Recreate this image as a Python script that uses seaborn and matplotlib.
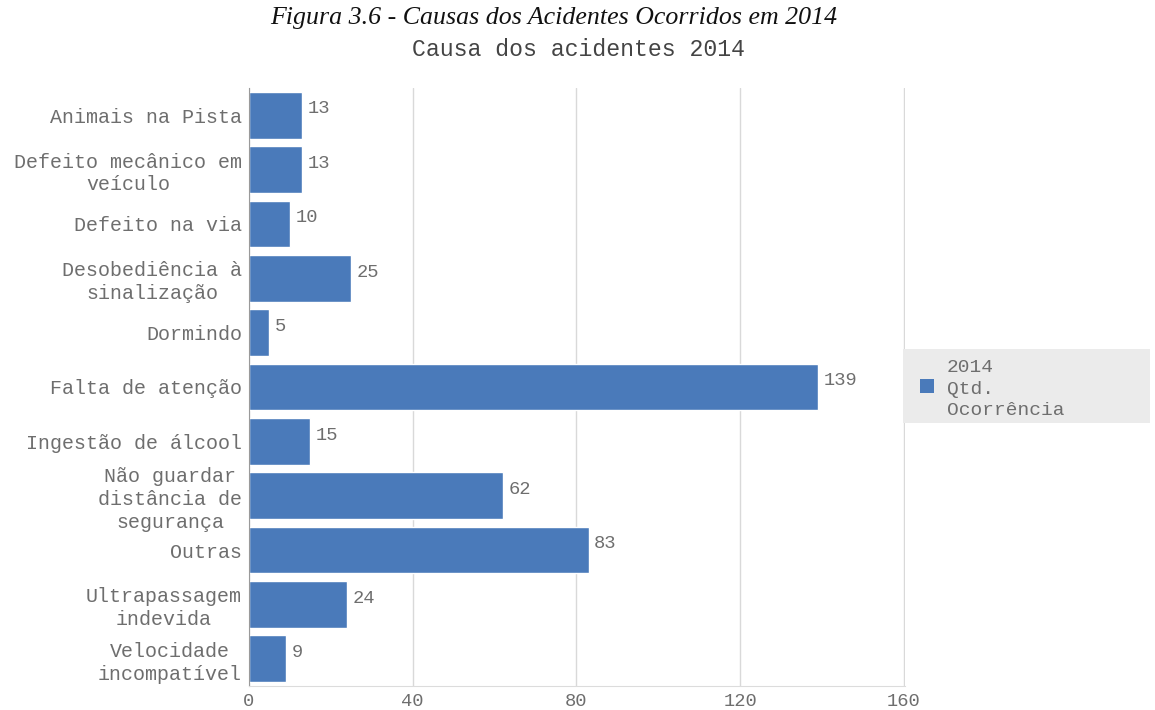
import matplotlib
matplotlib.use("Agg")
import matplotlib.pyplot as plt
import seaborn as sns
import pandas as pd
from matplotlib.patches import Rectangle

categories = [
    "Animais na Pista",
    "Defeito mecânico em\nveículo",
    "Defeito na via",
    "Desobediência à\nsinalização",
    "Dormindo",
    "Falta de atenção",
    "Ingestão de álcool",
    "Não guardar\ndistância de\nsegurança",
    "Outras",
    "Ultrapassagem\nindevida",
    "Velocidade\nincompatível",
]
values = [13, 13, 10, 25, 5, 139, 15, 62, 83, 24, 9]
x_ticks = [0, 40, 80, 120, 160]
series_name = "2014\nQtd.\nOcorrência"
fig_title = "Figura 3.6 - Causas dos Acidentes Ocorridos em 2014"
chart_title = "Causa dos acidentes 2014"

sns.set_style("white")
plt.rcParams["font.family"] = ["Liberation Mono", "DejaVu Sans Mono"]

bar_color = "#4a7aba"
text_color = "#6e6e6e"

df = pd.DataFrame({"cause": categories, "count": values})

fig = plt.figure(figsize=(11.55, 7.10), dpi=100)
ax = fig.add_axes([249 / 1155, 1 - 686 / 710, (905 - 249) / 1155, (686 - 88) / 710])

sns.barplot(data=df, y="cause", x="count", orient="h", color=bar_color,
            saturation=1, width=0.86, ax=ax)

ax.set_xlim(0, 160.3)
ax.set_xticks(x_ticks)
ax.set_xticklabels([str(t) for t in x_ticks], fontsize=13.5, color=text_color)
ax.set_xlabel("")
ax.set_ylabel("")
ax.tick_params(axis="both", length=0, pad=5)
for lbl in ax.get_yticklabels():
    lbl.set_fontsize(14.4)
    lbl.set_color(text_color)
    lbl.set_multialignment("center")
    lbl.set_linespacing(1.25)

ax.grid(axis="x", color="#d9d9d9", linewidth=1)
ax.set_axisbelow(True)
for s in ["top", "right"]:
    ax.spines[s].set_visible(False)
ax.spines["left"].set_color("#9a9a9a")
ax.spines["bottom"].set_color("#dcdcdc")

for i, v in enumerate(values):
    ax.annotate(str(v), xy=(v, i), xytext=(4, 4.5), textcoords="offset points",
                ha="left", va="center", fontsize=13.5, color=text_color)

fig.text(554 / 1155, 1 - 18 / 710, fig_title, ha="center", va="center",
         fontsize=18.6, fontstyle="italic", family=["Liberation Serif", "DejaVu Serif"],
         color="#111111")
fig.text(578 / 1155, 1 - 49 / 710, chart_title, ha="center", va="center",
         fontsize=16.7, color="#444444")

# legend box
fig.patches.append(Rectangle((903 / 1155, 1 - 423 / 710), (1150 - 903) / 1155, 74 / 710,
                             transform=fig.transFigure, facecolor="#ebebeb",
                             edgecolor="none", zorder=0))
fig.patches.append(Rectangle((920 / 1155, 1 - 393 / 710), 14 / 1155, 14 / 710,
                             transform=fig.transFigure, facecolor=bar_color,
                             edgecolor="none", zorder=1))
fig.text(947 / 1155, 1 - 389 / 710, series_name, ha="left", va="center",
         fontsize=14, color=text_color, linespacing=1.35)

fig.savefig("out.png", dpi=100)
